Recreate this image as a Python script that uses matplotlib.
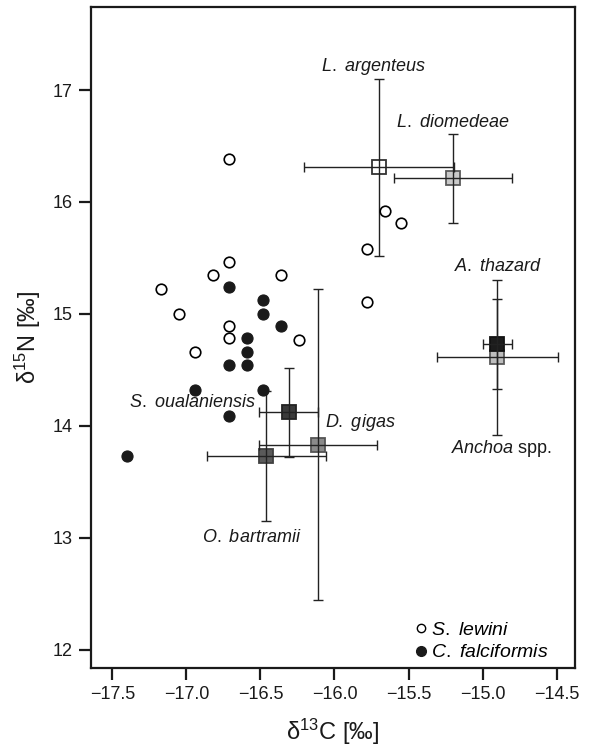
import matplotlib
matplotlib.use("Agg")
import matplotlib.pyplot as plt
from matplotlib.lines import Line2D

plt.rcParams['font.family'] = ['Liberation Sans', 'DejaVu Sans']
plt.rcParams['mathtext.fontset'] = 'custom'
plt.rcParams['mathtext.rm'] = 'Liberation Sans'
plt.rcParams['mathtext.it'] = 'Liberation Sans:italic'
plt.rcParams['mathtext.bf'] = 'Liberation Sans:bold'

# ---- data ----
lewini_c = [-16.71, -16.71, -16.82, -16.36, -17.17, -17.05, -16.71, -16.71,
            -16.24, -16.94, -15.66, -15.55, -15.78, -15.78]
lewini_n = [16.38, 15.46, 15.35, 15.35, 15.22, 15.00, 14.89, 14.78,
            14.77, 14.66, 15.92, 15.81, 15.58, 15.11]

falci_c = [-16.71, -16.48, -16.48, -16.36, -16.59, -16.59, -16.71, -16.59,
           -16.94, -16.48, -16.71, -17.40]
falci_n = [15.24, 15.12, 15.00, 14.89, 14.78, 14.66, 14.54, 14.54,
           14.32, 14.32, 14.09, 13.73]

prey_names = ['L. argenteus', 'L. diomedeae', 'Anchoa spp.', 'A. thazard',
              'S. oualaniensis', 'D. gigas', 'O. bartramii']
prey_c = [-15.70, -15.20, -14.90, -14.90, -16.31, -16.11, -16.46]
prey_n = [16.31, 16.21, 14.61, 14.73, 14.12, 13.83, 13.73]
prey_sd_c = [0.505, 0.40, 0.41, 0.10, 0.20, 0.40, 0.40]
prey_sd_n = [0.79, 0.395, 0.69, 0.40, 0.40, 1.39, 0.58]
prey_face = ['#ffffff', '#c9c9c9', '#bdbdbd', '#1c1c1c', '#3a3a3a', '#8a8a8a', '#5a5a5a']
prey_edge = ['#333333', '#5a5a5a', '#5a5a5a', '#111111', '#222222', '#555555', '#404040']

label_text = [r'$\mathit{L.\ argenteus}$', r'$\mathit{L.\ diomedeae}$',
              r'$\mathit{Anchoa}$ spp.', r'$\mathit{A.\ thazard}$',
              r'$\mathit{S.\ oualaniensis}$', r'$\mathit{D.\ gigas}$',
              r'$\mathit{O.\ bartramii}$']
label_c = [-15.738, -15.201, -14.871, -14.894, -16.535, -16.064, -16.559]
label_n = [17.208, 16.708, 13.798, 15.427, 14.206, 14.027, 13.003]
label_ha = ['center', 'center', 'center', 'center', 'right', 'left', 'center']

x_ticks = [-17.5, -17.0, -16.5, -16.0, -15.5, -15.0, -14.5]
y_ticks = [12, 13, 14, 15, 16, 17]

# ---- figure ----
fig = plt.figure(figsize=(5.89, 7.49), dpi=100)
ax = fig.add_axes([0.1545, 0.1081, 0.8217, 0.8826])

for i in range(len(prey_names)):
    ax.plot(prey_c[i], prey_n[i], marker='s', ms=10.5, mfc=prey_face[i],
            mec=prey_edge[i], mew=1.3, ls='none', zorder=2 + i * 0.1)
    ax.errorbar(prey_c[i], prey_n[i], xerr=prey_sd_c[i], yerr=prey_sd_n[i],
                fmt='none', ecolor='#222222', elinewidth=1.0, capsize=3.6,
                capthick=1.0, zorder=3)

ax.plot(lewini_c, lewini_n, 'o', ms=7.6, mfc='white', mec='black', mew=1.2,
        ls='none', zorder=4)
ax.plot(falci_c, falci_n, 'o', ms=8.0, mfc='#1a1a1a', mec='#1a1a1a', mew=0.8,
        ls='none', zorder=4)

for t, c, n, ha in zip(label_text, label_c, label_n, label_ha):
    ax.text(c, n, t, ha=ha, va='center', fontsize=13, color='#1a1a1a', zorder=5)

ax.set_xlim(-17.644, -14.376)
ax.set_ylim(11.835, 17.742)
ax.set_xticks(x_ticks)
ax.set_yticks(y_ticks)
ax.tick_params(direction='out', length=8.6, width=1.6, labelsize=13,
               pad=4.5, color='#1a1a1a', labelcolor='#1a1a1a')
for s in ax.spines.values():
    s.set_linewidth(1.6)
    s.set_color('#1a1a1a')

ax.set_xlabel('\u03b4$^{13}$C [\u2030]', fontsize=17, labelpad=10, color='#1a1a1a')
ax.set_ylabel('\u03b4$^{15}$N [\u2030]', fontsize=17, labelpad=7, color='#1a1a1a')

handles = [Line2D([], [], marker='o', ls='none', ms=6, mfc='white', mec='black', mew=1.0),
           Line2D([], [], marker='o', ls='none', ms=7, mfc='#1a1a1a', mec='#1a1a1a')]
leg = ax.legend(handles, [r'$\mathit{S.\ lewini}$', r'$\mathit{C.\ falciformis}$'],
                loc='lower right', bbox_to_anchor=(0.946, 0.010), frameon=False,
                fontsize=14.0, handlelength=0.6, handletextpad=0.25,
                labelspacing=0.25, borderpad=0, borderaxespad=0)

fig.savefig('out.png', dpi=100)
